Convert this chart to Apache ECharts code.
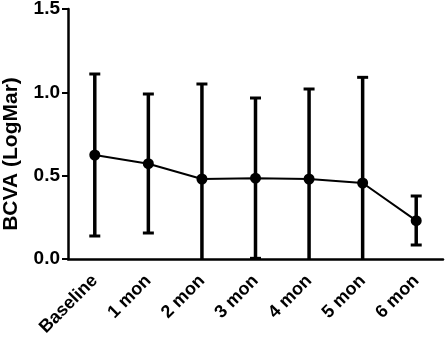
<!DOCTYPE html>
<html>
<head>
<meta charset="utf-8">
<script src="https://cdn.jsdelivr.net/npm/echarts@6/dist/echarts.min.js"></script>
<style>
  html, body { margin: 0; padding: 0; background: #fff; }
  #main { width: 447px; height: 341px; }
</style>
</head>
<body>
<div id="main"></div>
<script>
// time points
const categories = ['Baseline', '1 mon', '2 mon', '3 mon', '4 mon', '5 mon', '6 mon'];
// mean BCVA (LogMar)
const meanValues = [0.624, 0.572, 0.480, 0.485, 0.480, 0.456, 0.230];
// mean + SD
const upperValues = [1.11, 0.99, 1.05, 0.966, 1.02, 1.09, 0.378];
// mean - SD (below 0 gets clipped by the axis)
const lowerValues = [0.138, 0.156, -0.09, 0.004, -0.06, -0.18, 0.084];
const yTicks = [0, 0.5, 1.0, 1.5];

const chart = echarts.init(document.getElementById('main'));
const font = '"Liberation Sans", Arial, sans-serif';

const errData = categories.map((c, i) => [i, lowerValues[i], upperValues[i]]);

const option = {
  backgroundColor: '#fff',
  animation: false,
  grid: { left: 68, right: 4, top: 9, bottom: 82, containLabel: false, outerBoundsMode: 'none' },
  xAxis: {
    type: 'category',
    data: categories,
    boundaryGap: true,
    axisLine: { lineStyle: { color: '#000', width: 2.5 } },
    axisTick: { alignWithLabel: true, length: 6, lineStyle: { color: '#000', width: 2 } },
    axisLabel: {
      interval: 0,
      rotate: 45,
      margin: 19,
      color: '#000',
      fontSize: 18,
      fontWeight: 'bold',
      fontFamily: font
    }
  },
  yAxis: {
    type: 'value',
    min: yTicks[0],
    max: yTicks[yTicks.length - 1],
    interval: 0.5,
    name: 'BCVA (LogMar)',
    nameLocation: 'middle',
    nameGap: 46,
    nameTextStyle: {
      color: '#000', fontSize: 21, fontWeight: 'bold', fontFamily: font,
      padding: [0, 40, 0, 0]
    },
    splitLine: { show: false },
    axisLine: { show: true, lineStyle: { color: '#000', width: 2.5 } },
    axisTick: { show: true, length: 6, lineStyle: { color: '#000', width: 2 } },
    axisLabel: {
      margin: 8,
      color: '#000',
      fontSize: 19,
      fontWeight: 'bold',
      fontFamily: font,
      formatter: v => v.toFixed(1)
    }
  },
  series: [
    {
      type: 'custom',
      clip: true,
      data: errData,
      z: 3,
      renderItem: function (params, api) {
        const x = api.value(0);
        const lo = api.coord([x, api.value(1)]);
        const hi = api.coord([x, api.value(2)]);
        const half = 5.5;
        return {
          type: 'group',
          children: [
            { type: 'line', shape: { x1: hi[0], y1: hi[1], x2: lo[0], y2: lo[1] }, style: { stroke: '#000', lineWidth: 3.5 } },
            { type: 'line', shape: { x1: hi[0] - half, y1: hi[1], x2: hi[0] + half, y2: hi[1] }, style: { stroke: '#000', lineWidth: 3 } },
            { type: 'line', shape: { x1: lo[0] - half, y1: lo[1], x2: lo[0] + half, y2: lo[1] }, style: { stroke: '#000', lineWidth: 3 } }
          ]
        };
      }
    },
    {
      type: 'line',
      data: meanValues,
      z: 4,
      symbol: 'circle',
      symbolSize: 11,
      lineStyle: { color: '#000', width: 2 },
      itemStyle: { color: '#000' }
    }
  ]
};

chart.setOption(option);
</script>
</body>
</html>
